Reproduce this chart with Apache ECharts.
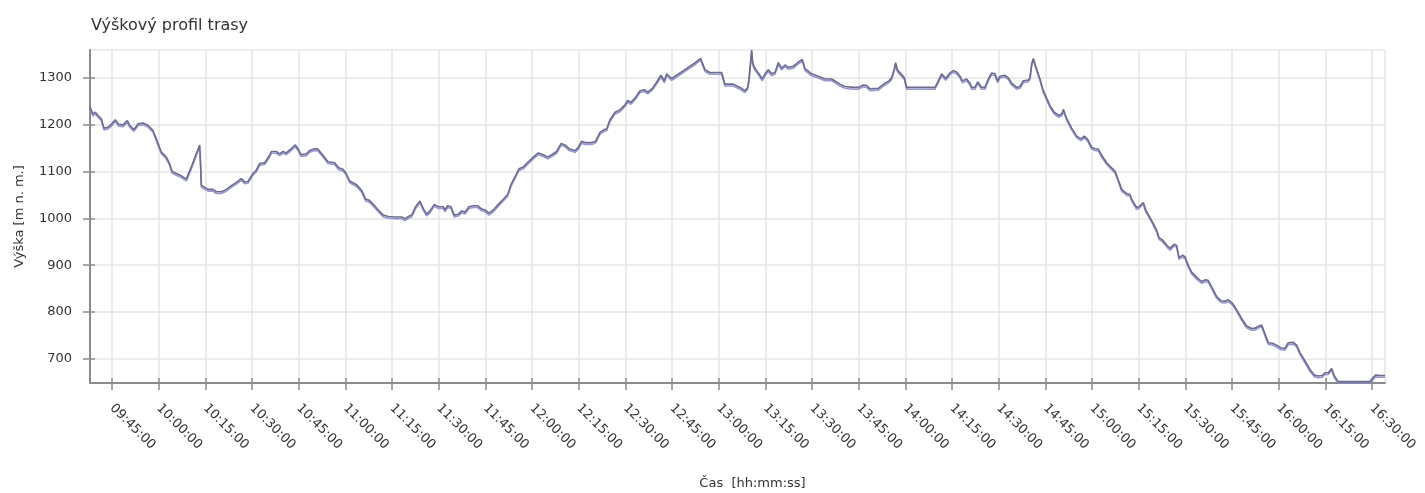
<!DOCTYPE html>
<html>
<head>
<meta charset="utf-8">
<script src="https://cdn.jsdelivr.net/npm/echarts@6/dist/echarts.min.js"></script>
<style>
html,body{margin:0;padding:0;background:#fff;}
#profil{width:1425px;height:493px;}
</style>
</head>
<body>
<div id="profil"></div>
<script>
// čas průchodu a nadmořská výška
var casy = [
    '09:37:56','09:38:53','09:39:38','09:40:30','09:41:34','09:42:26','09:43:43','09:44:47',
    '09:46:04','09:47:09','09:48:32','09:49:56','09:50:41','09:52:04','09:53:22','09:54:58',
    '09:56:34','09:58:11','09:59:15','10:00:51','10:02:28','10:03:32','10:04:17','10:05:41',
    '10:07:17','10:08:54','10:10:30','10:12:06','10:13:11','10:13:30','10:13:43','10:14:15',
    '10:15:52','10:17:28','10:18:32','10:20:08','10:21:45','10:23:22','10:24:58','10:26:34',
    '10:27:39','10:28:43','10:30:19','10:31:23','10:32:28','10:34:04','10:35:41','10:36:13',
    '10:37:49','10:38:54','10:39:58','10:41:02','10:42:38','10:43:56','10:44:47','10:45:52',
    '10:47:28','10:48:32','10:50:09','10:51:13','10:52:49','10:54:26','10:56:34','10:57:52',
    '10:59:15','11:00:19','11:01:24','11:03:39','11:05:15','11:06:32','11:07:37','11:09:00',
    '11:10:37','11:12:13','11:13:49','11:15:58','11:18:07','11:19:11','11:20:15','11:21:20',
    '11:22:37','11:24:00','11:25:04','11:26:09','11:27:13','11:28:37','11:29:54','11:31:30',
    '11:32:02','11:32:54','11:33:58','11:35:02','11:36:20','11:37:24','11:38:28','11:39:45',
    '11:41:09','11:42:32','11:43:50','11:44:54','11:46:11','11:47:35','11:49:11','11:50:47',
    '11:52:11','11:53:15','11:54:32','11:55:50','11:57:13','11:58:50','12:00:26','12:02:02',
    '12:03:39','12:05:02','12:06:20','12:07:56','12:09:20','12:10:37','12:11:54','12:13:50',
    '12:14:54','12:15:58','12:17:02','12:19:11','12:20:28','12:21:52','12:23:16','12:24:00',
    '12:25:05','12:26:41','12:28:17','12:29:54','12:30:46','12:31:50','12:33:20','12:34:43',
    '12:36:07','12:37:11','12:38:41','12:40:05','12:41:28','12:42:32','12:43:17','12:44:54',
    '12:46:31','12:49:11','12:51:52','12:54:13','12:55:37','12:57:13','13:00:58','13:02:02',
    '13:04:43','13:06:52','13:08:28','13:09:20','13:09:46','13:10:37','13:10:56','13:11:28',
    '13:12:58','13:14:02','13:14:54','13:15:58','13:17:03','13:18:07','13:19:11','13:20:16',
    '13:21:20','13:22:24','13:24:01','13:25:24','13:26:54','13:27:46','13:29:54','13:32:02',
    '13:34:11','13:36:20','13:39:01','13:40:37','13:43:17','13:44:54','13:46:31','13:47:35',
    '13:48:39','13:49:11','13:51:20','13:52:24','13:53:28','13:54:45','13:55:37','13:56:28',
    '13:56:54','13:57:26','13:58:37','13:59:41','14:00:26','14:09:33','14:10:37','14:11:41',
    '14:12:59','14:14:22','14:15:26','14:16:31','14:17:35','14:18:20','14:19:44','14:20:48',
    '14:21:20','14:22:24','14:23:16','14:24:01','14:24:33','14:25:37','14:26:41','14:27:46',
    '14:28:50','14:29:41','14:30:26','14:31:50','14:33:07','14:34:11','14:35:48','14:36:52',
    '14:37:56','14:39:33','14:40:05','14:40:37','14:41:09','14:41:54','14:43:18','14:44:22',
    '14:45:26','14:46:31','14:47:54','14:49:24','14:50:16','14:50:48','14:51:52','14:53:29',
    '14:55:05','14:56:28','14:57:33','14:58:37','14:59:55','15:00:59','15:02:03','15:03:07',
    '15:04:44','15:06:20','15:07:25','15:08:29','15:09:33','15:11:10','15:12:14','15:12:46',
    '15:14:22','15:15:07','15:16:31','15:17:16','15:18:20','15:19:44','15:20:48','15:21:33',
    '15:22:37','15:24:01','15:25:05','15:26:29','15:27:14','15:27:59','15:29:03','15:29:55',
    '15:30:59','15:32:03','15:33:40','15:35:16','15:36:33','15:37:25','15:38:41','15:40:05',
    '15:41:29','15:42:46','15:43:50','15:45:07','15:46:31','15:48:07','15:49:44','15:51:07',
    '15:52:25','15:53:41','15:54:33','15:55:37','15:56:41','15:57:59','15:59:22','16:00:46',
    '16:02:03','16:03:07','16:04:44','16:05:48','16:06:52','16:08:29','16:10:05','16:11:29',
    '16:12:46','16:14:03','16:14:55','16:15:59','16:17:03','16:17:55','16:19:11','16:29:22',
    '16:30:26','16:31:11','16:32:35','16:34:12'
];
var vysky = [
    1238,1223,1227,1220,1213,1193,1195,1201,
    1211,1201,1200,1209,1199,1190,1202,1204,
    1199,1188,1170,1142,1131,1117,1101,1096,
    1091,1084,1110,1138,1157,1113,1071,1067,
    1062,1062,1057,1057,1062,1070,1077,1085,
    1078,1079,1096,1103,1117,1119,1135,1143,
    1143,1138,1143,1140,1149,1157,1149,1136,
    1138,1145,1149,1148,1135,1121,1119,1108,
    1105,1096,1080,1072,1060,1041,1039,1030,
    1018,1007,1004,1003,1003,999,1004,1007,
    1025,1037,1021,1009,1016,1030,1025,1025,
    1018,1027,1025,1007,1009,1016,1013,1025,
    1027,1027,1020,1018,1011,1018,1030,1041,
    1051,1072,1089,1106,1110,1121,1131,1140,
    1136,1131,1136,1143,1160,1157,1149,1145,
    1152,1165,1162,1162,1165,1184,1190,1191,
    1211,1227,1232,1243,1252,1248,1259,1273,
    1275,1270,1278,1291,1306,1294,1309,1299,
    1306,1318,1330,1342,1318,1312,1312,1287,
    1287,1280,1273,1280,1298,1360,1333,1323,
    1309,1298,1309,1318,1309,1312,1333,1321,
    1328,1323,1325,1333,1340,1320,1309,1304,
    1298,1298,1287,1282,1280,1280,1285,1284,
    1277,1278,1278,1284,1289,1294,1301,1319,
    1333,1318,1309,1301,1280,1280,1294,1309,
    1299,1311,1316,1313,1304,1294,1298,1289,
    1280,1280,1292,1285,1280,1280,1298,1311,
    1309,1294,1304,1306,1301,1289,1280,1282,
    1294,1296,1301,1330,1342,1326,1298,1273,
    1257,1241,1227,1220,1223,1233,1214,1193,
    1176,1170,1176,1169,1152,1149,1148,1135,
    1119,1108,1101,1082,1062,1053,1051,1041,
    1023,1025,1034,1018,1006,989,975,959,
    954,943,936,945,942,916,921,918,
    899,885,874,865,869,867,851,833,
    824,823,826,819,805,786,770,765,
    765,770,772,753,734,733,729,723,
    722,734,735,729,713,695,677,665,
    663,664,670,670,679,663,651,651,
    660,665,664,664
];
var casPopisky = [
    '09:45:00','10:00:00','10:15:00','10:30:00','10:45:00','11:00:00','11:15:00',
    '11:30:00','11:45:00','12:00:00','12:15:00','12:30:00','12:45:00','13:00:00',
    '13:15:00','13:30:00','13:45:00','14:00:00','14:15:00','14:30:00','14:45:00',
    '15:00:00','15:15:00','15:30:00','15:45:00','16:00:00','16:15:00','16:30:00'
];
var vyskaPopisky = [700, 800, 900, 1000, 1100, 1200, 1300];

function naSekundy(s){
    var p = s.split(':');
    return (+p[0]) * 3600 + (+p[1]) * 60 + (+(p[2] || 0));
}
function naCas(v){
    var h = Math.floor(v / 3600), m = Math.floor((v % 3600) / 60), s = Math.round(v % 60);
    function dv(n){ return (n < 10 ? '0' : '') + n; }
    return dv(h) + ':' + dv(m) + ':' + dv(s);
}

var body = [];
for (var i = 0; i < casy.length; i++) {
    body.push([naSekundy(casy[i]), vysky[i]]);
}
var xTicks = casPopisky.map(naSekundy);
var xMin = naSekundy('09:37:56'), xMax = naSekundy('16:34:12');
var yMin = 648, yMax = 1360;
var pismo = 'DejaVu Sans';

var option = {
    animation: false,
    backgroundColor: '#fff',
    title: {
        text: 'Výškový profil trasy',
        left: 86,
        top: 13,
        textStyle: { fontFamily: pismo, fontSize: 16, fontWeight: 'normal', color: '#333' }
    },
    grid: {
        left: 90, right: 40, top: 50, bottom: 110,
        outerBoundsMode: 'none',
        containLabel: false,
        show: true,
        borderColor: '#e6e6e6',
        borderWidth: 1.5
    },
    xAxis: [{
        type: 'value',
        min: xMin,
        max: xMax,
        name: 'Čas  [hh:mm:ss]',
        nameLocation: 'middle',
        nameGap: 94,
        nameTextStyle: { fontFamily: pismo, fontSize: 13, color: '#333', padding: [0, 0, 0, 30] },
        axisLine: { lineStyle: { color: '#8c8c8c', width: 2 } },
        axisTick: { show: true, length: 7, lineStyle: { color: '#8c8c8c', width: 1.5 }, customValues: xTicks },
        axisLabel: {
            customValues: xTicks,
            rotate: -45,
            margin: 23,
            fontFamily: pismo,
            fontSize: 13,
            color: '#333',
            formatter: function (v) { return naCas(v); }
        },
        splitLine: { show: true, lineStyle: { color: '#e6e6e6', width: 1.5 } }
    }, {
        type: 'value',
        min: xMin,
        max: xMax,
        position: 'bottom',
        axisLine: { show: false },
        axisTick: { show: true, inside: true, length: 5, lineStyle: { color: '#8c8c8c', width: 1.5 }, customValues: xTicks },
        axisLabel: { show: false },
        splitLine: { show: false }
    }],
    yAxis: [{
        type: 'value',
        min: yMin,
        max: yMax,
        name: 'Výška [m n. m.]',
        nameLocation: 'middle',
        nameGap: 64,
        nameTextStyle: { fontFamily: pismo, fontSize: 13, color: '#333' },
        axisLine: { show: true, lineStyle: { color: '#8c8c8c', width: 2 } },
        axisTick: { show: true, length: 7, lineStyle: { color: '#8c8c8c', width: 1.5 }, customValues: vyskaPopisky },
        axisLabel: {
            customValues: vyskaPopisky,
            margin: 18,
            fontFamily: pismo,
            fontSize: 13,
            color: '#333',
            formatter: function (v) { return String(v); }
        },
        splitLine: { show: true, lineStyle: { color: '#e6e6e6', width: 1.5 } }
    }, {
        type: 'value',
        min: yMin,
        max: yMax,
        position: 'left',
        axisLine: { show: false },
        axisTick: { show: true, inside: true, length: 5, lineStyle: { color: '#8c8c8c', width: 1.5 }, customValues: vyskaPopisky },
        axisLabel: { show: false },
        splitLine: { show: false }
    }],
    series: [{
        name: 'Výška',
        type: 'line',
        xAxisIndex: 0,
        yAxisIndex: 0,
        symbol: 'none',
        data: body,
        lineStyle: {
            color: '#6c6c8e',
            width: 1.6,
            shadowColor: 'rgba(140,140,205,0.9)',
            shadowBlur: 0,
            shadowOffsetY: 1.8
        }
    }]
};

var dom = document.getElementById('profil');
var graf = echarts.init(dom);
graf.setOption(option, true);
</script>
</body>
</html>
